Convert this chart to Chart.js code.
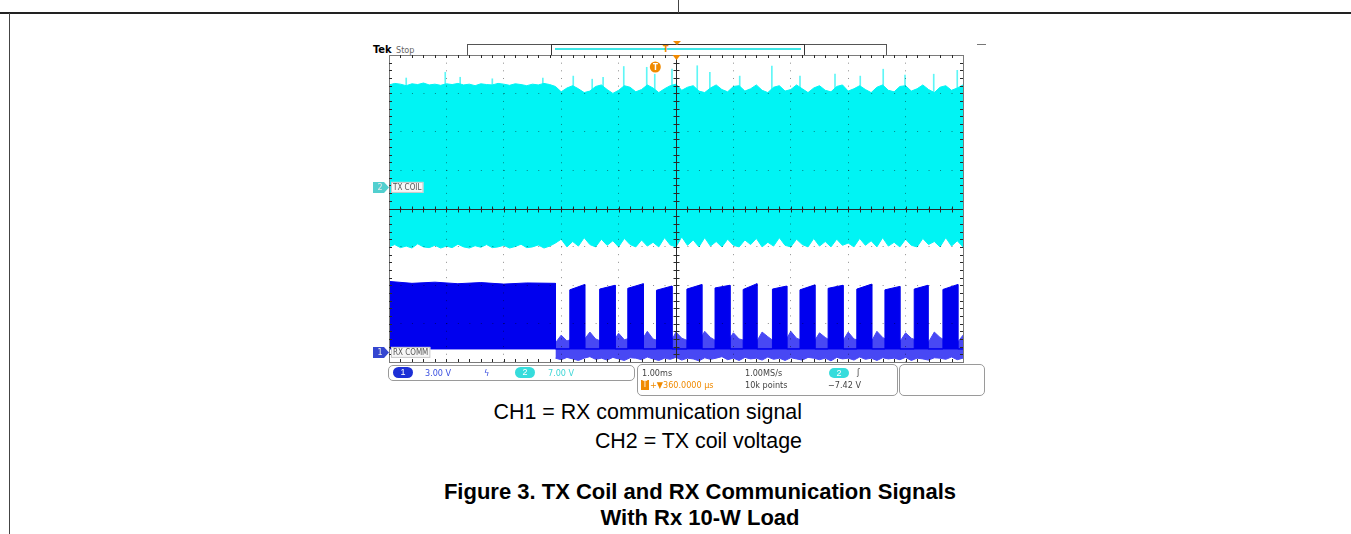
<!DOCTYPE html>
<html>
<head>
<meta charset="utf-8">
<script src="https://cdn.jsdelivr.net/npm/chart.js@4.4.1/dist/chart.umd.min.js"></script>
<style>
  html, body { margin: 0; padding: 0; background: #fff; }
  body { width: 1351px; height: 534px; position: relative; overflow: hidden; font-family: 'Liberation Sans', Arial, sans-serif; }
  .abs { position: absolute; }
  .scope { font-family: 'Liberation Sans Narrow', 'DejaVu Sans Condensed', sans-serif; font-size: 9px; line-height: 10px; color: #444; white-space: nowrap; }
  .box { border: 1px solid #9a9a9a; border-radius: 5px; box-sizing: border-box; }
  .pill { border-radius: 6px; color: #fff; text-align: center; font-size: 9px; line-height: 10px; height: 10px; width: 20px; }
  .cap { font-size: 21.4px; line-height: 21.4px; color: #000; white-space: nowrap; }
  .ttl { font-size: 22px; line-height: 22px; font-weight: bold; color: #000; white-space: nowrap; text-align: center; }
</style>
</head>
<body>
<!-- document frame -->
<div class="abs" style="left:0;top:12px;width:1351px;height:2px;background:#222"></div>
<div class="abs" style="left:678px;top:0;width:1px;height:13px;background:#444"></div>
<div class="abs" style="left:9px;top:13px;width:1px;height:521px;background:#444"></div>

<!-- scope header -->
<div class="abs scope" style="left:373px;top:44px;font-weight:bold;color:#000;font-size:11px;line-height:12px;font-family:'DejaVu Sans Condensed',sans-serif">Tek</div>
<div class="abs scope" style="left:396px;top:45px;color:#666">Stop</div>
<div class="abs" style="left:467px;top:44px;width:420px;height:12px;border:1px solid #555;box-sizing:border-box"></div>
<div class="abs" style="left:551px;top:44px;width:254px;height:12px;border:1px solid #333;box-sizing:border-box"></div>
<div class="abs" style="left:555px;top:48px;width:246px;height:2px;background:#3fe6e6"></div>
<div class="abs scope" style="left:663px;top:44px;color:#f08a00;font-weight:bold;font-size:9px">T</div>
<div class="abs" style="left:673px;top:41px;width:0;height:0;border-left:4px solid transparent;border-right:4px solid transparent;border-top:4px solid #f08a00"></div>
<div class="abs" style="left:977px;top:44px;width:9px;height:1px;background:#777"></div>

<!-- oscilloscope trace -->
<div class="abs" style="left:360px;top:36px;width:630px;height:330px">
  <canvas id="wave" width="630" height="330"></canvas>
</div>

<!-- status bar -->
<div class="abs box" style="left:388px;top:365px;width:247px;height:16px"></div>
<div class="abs pill" style="left:393px;top:367px;background:#1c2fd6;height:11px;line-height:11px">1</div>
<div class="abs scope" style="left:425px;top:368px;color:#3a4fe0">3.00 V</div>
<div class="abs scope" style="left:484px;top:368px;color:#3a4fe0">ϟ</div>
<div class="abs pill" style="left:515px;top:367px;background:#36dcdc;height:11px;line-height:11px">2</div>
<div class="abs scope" style="left:548px;top:368px;color:#3ed6d6">7.00 V</div>

<div class="abs box" style="left:637px;top:364px;width:261px;height:32px"></div>
<div class="abs scope" style="left:642px;top:368px">1.00ms</div>
<div class="abs scope" style="left:745px;top:368px">1.00MS/s</div>
<div class="abs pill" style="left:829px;top:368px;background:#36dcdc">2</div>
<div class="abs scope" style="left:857px;top:367px">ʃ</div>
<div class="abs" style="left:641px;top:380px;width:8px;height:10px;background:#f08a00;color:#fff;font-size:8px;line-height:10px;text-align:center;font-family:'DejaVu Sans Condensed',sans-serif">T</div>
<div class="abs scope" style="left:650px;top:380px;color:#f08a00">+▼360.0000 µs</div>
<div class="abs scope" style="left:745px;top:380px">10k points</div>
<div class="abs scope" style="left:828px;top:380px">−7.42 V</div>

<div class="abs box" style="left:899px;top:364px;width:86px;height:32px"></div>

<!-- captions -->
<div class="abs cap" style="left:0;top:402px;width:802px;text-align:right">CH1 = RX communication signal</div>
<div class="abs cap" style="left:0;top:431px;width:802px;text-align:right">CH2 = TX coil voltage</div>
<div class="abs ttl" style="left:400px;top:481px;width:600px">Figure 3. TX Coil and RX Communication Signals</div>
<div class="abs ttl" style="left:400px;top:507px;width:600px">With Rx 10-W Load</div>

<script>
// time axis in ms (1.00 ms/div), vertical axis in screen divisions
const txTime = [
  -5.0, -4.9, -4.8, -4.7, -4.6, -4.5, -4.4, -4.3, -4.2, -4.1,
  -4.0, -3.9, -3.8, -3.7, -3.6, -3.5, -3.4, -3.3, -3.2, -3.1,
  -3.0, -2.9, -2.8, -2.7, -2.6, -2.5, -2.4, -2.3, -2.2, -2.1,
  -2.0, -1.9, -1.8, -1.7, -1.6, -1.5, -1.4, -1.3, -1.2, -1.1,
  -1.0, -0.9, -0.8, -0.7, -0.6, -0.5, -0.4, -0.3, -0.2, -0.1,
  0.0, 0.1, 0.2, 0.3, 0.4, 0.5, 0.6, 0.7, 0.8, 0.9,
  1.0, 1.1, 1.2, 1.3, 1.4, 1.5, 1.6, 1.7, 1.8, 1.9,
  2.0, 2.1, 2.2, 2.3, 2.4, 2.5, 2.6, 2.7, 2.8, 2.9,
  3.0, 3.1, 3.2, 3.3, 3.4, 3.5, 3.6, 3.7, 3.8, 3.9,
  4.0, 4.1, 4.2, 4.3, 4.4, 4.5, 4.6, 4.7, 4.8, 4.9,
  5.0
]

// CH2 TX coil: upper and lower envelope of the carrier
const txHigh = [
  3.22, 3.26, 3.24, 3.20, 3.25, 3.23, 3.27, 3.22, 3.24, 3.21,
  3.25, 3.23, 3.26, 3.22, 3.24, 3.20, 3.25, 3.23, 3.22, 3.26,
  3.24, 3.21, 3.25, 3.23, 3.20, 3.24, 3.22, 3.26, 3.23, 3.18,
  3.04, 3.14, 3.20, 3.12, 3.02, 3.06, 3.18, 3.22, 3.10, 3.00,
  3.08, 3.20, 3.16, 3.04, 3.10, 3.22, 3.14, 3.02, 3.12, 3.20,
  3.24, 3.08, 3.16, 3.20, 3.06, 3.02, 3.14, 3.22, 3.10, 3.04,
  3.18, 3.20, 3.06, 3.12, 3.22, 3.08, 3.02, 3.16, 3.20, 3.06,
  3.10, 3.22, 3.12, 3.02, 3.14, 3.20, 3.08, 3.04, 3.18, 3.22,
  3.06, 3.12, 3.20, 3.10, 3.02, 3.16, 3.22, 3.08, 3.04, 3.18,
  3.20, 3.06, 3.12, 3.22, 3.10, 3.02, 3.16, 3.20, 3.08, 3.14,
  3.22
]
const txLow = [
  -1.00, -0.94, -1.02, -0.98, -1.03, -0.92, -1.00, -1.02, -0.96, -1.03,
  -0.98, -1.02, -0.93, -1.00, -1.03, -0.97, -1.01, -0.94, -1.02, -1.00,
  -0.96, -1.03, -0.99, -0.93, -1.02, -1.00, -0.95, -1.03, -0.98, -0.90,
  -0.80, -1.00, -0.86, -0.98, -0.76, -0.94, -1.00, -0.80, -0.96, -0.84,
  -1.00, -0.78, -0.94, -1.00, -0.82, -0.98, -0.88, -1.00, -0.76, -0.95,
  -1.00, -0.74, -0.96, -0.82, -1.00, -0.76, -0.98, -0.86, -1.00, -0.80,
  -0.96, -1.00, -0.82, -0.94, -0.78, -1.00, -0.88, -0.98, -0.76, -0.96,
  -1.00, -0.80, -0.94, -1.00, -0.78, -0.98, -0.86, -1.00, -0.80, -0.96,
  -0.90, -1.00, -0.78, -0.96, -0.84, -1.00, -0.76, -0.98, -0.88, -1.00,
  -0.80, -0.96, -1.00, -0.78, -0.94, -0.86, -1.00, -0.76, -0.98, -0.84,
  -1.00
]
// single tall glitches above the carrier
const txSpikeTime = [-4.7, -4.02, -3.76, -3.2, -2.32, -1.79, -1.46, -1.27, -0.91, -0.51, -0.37, -0.07,
  0.37, 0.59, 1.11, 1.67, 2.16, 2.77, 3.21, 3.61, 3.99, 4.49, 4.9]
const txSpikeTop = [3.4, 3.55, 3.42, 3.38, 3.4, 3.45, 3.37, 3.42, 3.7, 3.68, 3.5, 3.63,
  3.72, 3.55, 3.45, 3.71, 3.45, 3.5, 3.45, 3.63, 3.48, 3.5, 3.6]

// CH1 RX comm: continuous burst, then packet pulses
const rxBurstTime = [-5.0, -4.6, -4.2, -3.8, -3.4, -3.0, -2.6, -2.1]
const rxBurstTop = [-1.90, -1.95, -1.92, -1.96, -1.93, -1.97, -1.94, -1.95]
const rxFloor = -3.66
const pulseOn = [-1.85, -1.33, -0.84, -0.34, 0.19, 0.68, 1.17, 1.68, 2.16, 2.65, 3.15, 3.64, 4.15, 4.65]
const pulseOff = [-1.59, -1.06, -0.57, -0.07, 0.45, 0.94, 1.41, 1.93, 2.42, 2.91, 3.41, 3.90, 4.39, 4.91]
const pulseRise = [-2.12, -2.10, -2.08, -2.13, -2.10, -2.07, -2.11, -2.10, -2.12, -2.08, -2.10, -2.12, -2.10, -2.11]
const pulseTop = [-1.98, -2.00, -1.96, -2.02, -1.98, -2.00, -1.96, -2.02, -1.99, -2.00, -1.97, -2.03, -2.00, -1.98]
// baseline noise band between packets (from -2.1 ms on)
const noiseHigh = [
  -3.50, -3.30, -3.45, -3.40, -3.48, -3.42, -3.22, -3.40, -3.46, -3.42, -3.48,
  -3.25, -3.42, -3.38, -3.47, -3.44, -3.20, -3.40, -3.45, -3.42, -3.50,
  -3.22, -3.38, -3.44, -3.40, -3.47, -3.20, -3.36, -3.45, -3.42, -3.46,
  -3.24, -3.40, -3.44, -3.38, -3.48, -3.22, -3.34, -3.45, -3.40, -3.47,
  -3.20, -3.38, -3.44, -3.42, -3.48, -3.24, -3.36, -3.45, -3.40, -3.47,
  -3.22, -3.40, -3.44, -3.38, -3.48, -3.20, -3.36, -3.45, -3.42, -3.47,
  -3.24, -3.38, -3.44, -3.40, -3.48, -3.22, -3.36, -3.45, -3.42, -3.50,
  -3.30
]
const noiseLow = [
  -3.90, -3.94, -3.88, -3.92, -3.96, -3.90, -3.86, -3.93, -3.90, -3.95, -3.88,
  -3.92, -3.96, -3.89, -3.90, -3.94, -3.87, -3.92, -3.96, -3.90, -3.93,
  -3.88, -3.95, -3.90, -3.92, -3.97, -3.89, -3.93, -3.90, -3.86, -3.94,
  -3.90, -3.96, -3.88, -3.92, -3.90, -3.95, -3.87, -3.93, -3.90, -3.96,
  -3.89, -3.92, -3.95, -3.88, -3.90, -3.94, -3.90, -3.97, -3.88, -3.92,
  -3.90, -3.95, -3.87, -3.93, -3.90, -3.96, -3.89, -3.92, -3.90, -3.94,
  -3.88, -3.96, -3.90, -3.92, -3.95, -3.89, -3.90, -3.93, -3.87, -3.94,
  -3.90
]
const noiseTime = txTime.slice(29)

const ch2Ref = 0.55
const ch1Ref = -3.75
const triggerTime = -0.36

const CYAN = '#00f4f4'
const BLUE = '#0000ee'

const pts = (xs, ys) => xs.map((x, i) => ({ x: x, y: ys[i] }))

const rxTrace = pts(rxBurstTime, rxBurstTop)
rxTrace.push({ x: rxBurstTime[rxBurstTime.length - 1], y: rxFloor })
pulseOn.forEach((t, i) => {
    rxTrace.push({ x: t, y: rxFloor }, { x: t, y: pulseRise[i] }, { x: pulseOff[i], y: pulseTop[i] }, { x: pulseOff[i], y: rxFloor })
})
rxTrace.push({ x: 5, y: rxFloor })

const line = (data, color, fill) => ({
    type: 'line',
    data: data,
    borderColor: color,
    backgroundColor: color,
    borderWidth: 1,
    pointRadius: 0,
    tension: 0,
    fill: fill,
})

const scopeOverlay = {
    id: 'scopeOverlay',
    afterDraw(chart) {
        const { ctx, chartArea: a, scales: { x, y } } = chart
        const px = (v) => Math.round(x.getPixelForValue(v)) + 0.5
        const py = (v) => Math.round(y.getPixelForValue(v)) + 0.5
        ctx.save()
        // frame
        ctx.strokeStyle = '#7a7a7a'
        ctx.lineWidth = 1
        ctx.strokeRect(Math.round(a.left) + 0.5, Math.round(a.top) + 0.5, Math.round(a.width), Math.round(a.height))
        // centre cross with minor ticks
        ctx.strokeStyle = '#2a2a2a'
        ctx.beginPath()
        ctx.moveTo(px(0), a.top); ctx.lineTo(px(0), a.bottom)
        ctx.moveTo(a.left, py(0)); ctx.lineTo(a.right, py(0))
        for (let k = 1; k < 50; k++) {
            const v = -5 + k * 0.2
            ctx.moveTo(px(v), py(0) - 3); ctx.lineTo(px(v), py(0) + 3)
            ctx.moveTo(px(v), a.top); ctx.lineTo(px(v), a.top + 3)
            ctx.moveTo(px(v), a.bottom); ctx.lineTo(px(v), a.bottom - 3)
        }
        for (let k = 1; k < 40; k++) {
            const v = -4 + k * 0.2
            ctx.moveTo(px(0) - 3, py(v)); ctx.lineTo(px(0) + 3, py(v))
            ctx.moveTo(a.left, py(v)); ctx.lineTo(a.left + 3, py(v))
            ctx.moveTo(a.right, py(v)); ctx.lineTo(a.right - 3, py(v))
        }
        ctx.stroke()

        // trigger markers
        ctx.fillStyle = '#f08a00'
        ctx.beginPath()
        ctx.moveTo(px(0) - 4, a.top); ctx.lineTo(px(0) + 4, a.top); ctx.lineTo(px(0), a.top + 5)
        ctx.fill()
        ctx.beginPath()
        ctx.arc(x.getPixelForValue(triggerTime), a.top + 12, 5.5, 0, Math.PI * 2)
        ctx.fill()
        ctx.fillStyle = '#fff'
        ctx.font = 'bold 8px "DejaVu Sans Condensed", sans-serif'
        ctx.textAlign = 'center'
        ctx.textBaseline = 'middle'
        ctx.fillText('T', x.getPixelForValue(triggerTime), a.top + 12.5)

        // channel ground markers
        const marker = (ref, fill, num, label) => {
            const ym = y.getPixelForValue(ref)
            const xr = a.left
            ctx.fillStyle = fill
            ctx.beginPath()
            ctx.moveTo(xr - 16, ym - 5.5); ctx.lineTo(xr - 5, ym - 5.5); ctx.lineTo(xr, ym)
            ctx.lineTo(xr - 5, ym + 5.5); ctx.lineTo(xr - 16, ym + 5.5)
            ctx.closePath()
            ctx.fill()
            ctx.fillStyle = '#e8e8e8'
            ctx.font = '9px "DejaVu Sans Condensed", sans-serif'
            ctx.textAlign = 'center'
            ctx.fillText(num, xr - 9, ym + 0.5)
            ctx.font = '8px "DejaVu Sans Condensed", sans-serif'
            const w = ctx.measureText(label).width + 4
            ctx.fillStyle = '#f6f6f6'
            ctx.fillRect(xr + 2, ym - 5.5, w, 11)
            ctx.strokeStyle = '#c8c8c8'
            ctx.strokeRect(xr + 2.5, ym - 5, w - 1, 10)
            ctx.fillStyle = '#555'
            ctx.textAlign = 'left'
            ctx.fillText(label, xr + 4, ym + 0.5)
        }
        marker(ch2Ref, '#52cfcf', '2', 'TX COIL')
        marker(ch1Ref, '#3446d0', '1', 'RX COMM')
        ctx.restore()
    },
}

const chart = new Chart(document.getElementById('wave'), {
    type: 'line',
    data: {
        datasets: [
            line(pts(txTime, txLow), CYAN, false),
            line(pts(txTime, txHigh), CYAN, '-1'),
            {
                type: 'bar',
                data: txSpikeTime.map((t, i) => ({ x: t, y: [3.0, txSpikeTop[i]] })),
                backgroundColor: '#5ff6f6',
                barThickness: 1,
            },
            line([{ x: -5, y: rxFloor }, { x: 5, y: rxFloor }], BLUE, false),
            line(rxTrace, BLUE, '-1'),
            line(pts(noiseTime, noiseLow), '#4848f4', false),
            line(pts(noiseTime, noiseHigh), '#4848f4', '-1'),
        ],
    },
    options: {
        responsive: false,
        animation: false,
        events: [],
        layout: { padding: { left: 29, top: 19, right: 27, bottom: 4 } },
        plugins: { legend: { display: false }, tooltip: { enabled: false } },
        scales: {
            x: {
                type: 'linear',
                min: -5,
                max: 5,
                offset: false,
                ticks: { display: false, stepSize: 1 },
                grid: { color: 'rgba(0,0,0,0.45)', drawTicks: false, offset: false, z: 1 },
                border: { display: false, dash: [1, 6.66] },
            },
            y: {
                type: 'linear',
                min: -4,
                max: 4,
                ticks: { display: false, stepSize: 1 },
                grid: { color: 'rgba(0,0,0,0.45)', drawTicks: false, z: 1 },
                border: { display: false, dash: [1, 10.48] },
            },
        },
    },
    plugins: [scopeOverlay],
})
</script>
</body>
</html>
